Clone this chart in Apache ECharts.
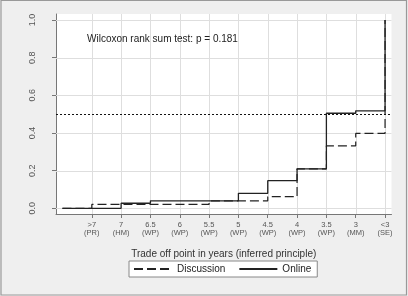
<!DOCTYPE html>
<html><head><meta charset="utf-8">
<script src="https://cdn.jsdelivr.net/npm/echarts@6/dist/echarts.min.js"></script>
<style>html,body{margin:0;padding:0;background:#efefef;}#c{width:408px;height:296px;}</style>
</head><body><div id="c"></div>
<script>
const xPositions = [0,1,2,3,4,5,6,7,8,9,10,11];
const tickPositions = [1,2,3,4,5,6,7,8,9,10,11];
const tickLabels = ['>7\n(PR)','7\n(HM)','6.5\n(WP)','6\n(WP)','5.5\n(WP)','5\n(WP)','4.5\n(WP)','4\n(WP)','3.5\n(WP)','3\n(MM)','<3\n(SE)'];
const discussion = [0,0.021,0.021,0.021,0.021,0.040,0.040,0.062,0.21,0.332,0.398,1.0];
const online = [0,0,0.027,0.040,0.040,0.040,0.080,0.147,0.21,0.505,0.518,1.0];
const yTicks = [0,0.2,0.4,0.6,0.8,1.0];
const refLine = 0.5;
const annotation = 'Wilcoxon rank sum test: p = 0.181';
const xTitle = 'Trade off point in years (inferred principle)';

const font = '"Liberation Sans", Arial, Helvetica, sans-serif';
const chart = echarts.init(document.getElementById('c'));
const pairs = arr => xPositions.map((x,i)=>[x,arr[i]]);
const gridColor = '#dedede';
const G = {left:56,right:16.5,top:14,bottom:82};
function gridLineSeries(values, vertical){
  return {type:'custom',coordinateSystem:'cartesian2d',silent:true,z:1,
    data:values.map(v=>vertical?[v,0]:[0,v]),encode:{x:0,y:1},
    renderItem:(params,api)=>{
      const cs=params.coordSys;
      const p=api.coord([api.value(0),api.value(1)]);
      if(vertical){const x=Math.round(p[0])+0.5;
        return {type:'line',shape:{x1:x,y1:cs.y,x2:x,y2:cs.y+cs.height},style:{stroke:gridColor,lineWidth:1}};}
      const y=Math.round(p[1])+0.5;
      return {type:'line',shape:{x1:cs.x,y1:y,x2:cs.x+cs.width,y2:y},style:{stroke:gridColor,lineWidth:1}};
    }};
}
chart.setOption({
  backgroundColor:'#efefef',
  animation:false,
  textStyle:{fontFamily:font},
  grid:{left:G.left,right:G.right,top:G.top,bottom:G.bottom,show:false,containLabel:false},
  xAxis:{type:'value',min:-0.22,max:11.22,
    name:xTitle,nameLocation:'middle',nameGap:35,
    nameTextStyle:{fontSize:10,color:'#333',fontFamily:font},
    axisLine:{show:true,onZero:false,lineStyle:{color:'#777',width:1}},
    axisTick:{show:true,length:4,customValues:tickPositions,lineStyle:{color:'#777'}},
    axisLabel:{customValues:tickPositions,fontSize:7.5,lineHeight:8,color:'#555',margin:7,
      formatter:v=>{const i=tickPositions.indexOf(Math.round(v));return i>=0?tickLabels[i]:'';}},
    splitLine:{show:false}},
  yAxis:{type:'value',min:-0.03,max:1.032,
    axisLine:{show:true,onZero:false,lineStyle:{color:'#777',width:1}},
    axisTick:{show:true,length:4,customValues:yTicks,lineStyle:{color:'#777'}},
    axisLabel:{customValues:yTicks,rotate:90,fontSize:9,color:'#555',margin:19,
      formatter:v=>v.toFixed(1)},
    splitLine:{show:false}},
  legend:{data:['Discussion','Online'],left:129,top:261,padding:[3,6,3,4],itemGap:13,
    itemWidth:38,itemHeight:12,borderColor:'#888',borderWidth:1,backgroundColor:'#fff',borderRadius:0,
    itemStyle:{opacity:0,borderWidth:0},
    textStyle:{fontSize:10,color:'#222',fontFamily:font}},
  graphic:[
    {type:'rect',z:-10,silent:true,shape:{x:G.left,y:G.top,width:408-G.left-G.right,height:296-G.top-G.bottom},style:{fill:'#fff'}},
    {type:'text',left:87,top:34,z:10,style:{text:annotation,fontSize:10,fontFamily:font,fill:'#222'}},
    {type:'rect',shape:{x:1,y:0.5,width:405.5,height:294.5},style:{fill:'none',stroke:'#999',lineWidth:1.2},silent:true}
  ],
  series:[
    gridLineSeries(tickPositions,true),
    gridLineSeries(yTicks,false),
    {name:'Discussion',type:'line',step:'end',symbol:'none',data:pairs(discussion),z:2,
      lineStyle:{color:'#222',width:1.2,type:[9,4]},itemStyle:{color:'#222'}},
    {name:'Online',type:'line',step:'end',symbol:'none',data:pairs(online),z:3,
      lineStyle:{color:'#222',width:1.3,type:'solid'},itemStyle:{color:'#222'},
      markLine:{silent:true,symbol:'none',label:{show:false},
        lineStyle:{color:'#111',width:1,type:[2,2]},data:[{yAxis:refLine}]}}
  ]
});
</script></body></html>
